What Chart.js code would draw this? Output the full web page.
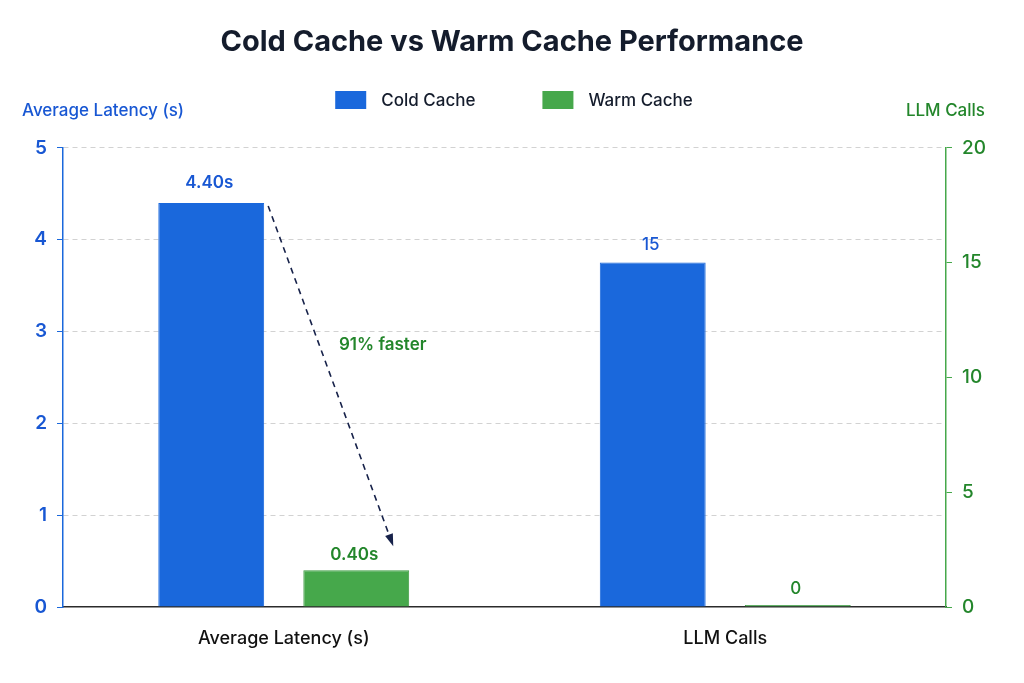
<!DOCTYPE html>
<html>
<head>
<meta charset="utf-8">
<title>Cold Cache vs Warm Cache Performance</title>
<script src="https://cdn.jsdelivr.net/npm/chart.js@4.4.1/dist/chart.umd.min.js"></script>
<style>
  html, body { margin: 0; background: #ffffff; }
  #wrap { width: 1024px; height: 683px; }
</style>
</head>
<body>
<div id="wrap"><canvas id="chart"></canvas></div>
<script>
// values
const categories = ['Average Latency (s)', 'LLM Calls'];
const seriesNames = ['Cold Cache', 'Warm Cache'];
const latencyValues = [4.40, 0.40];   // cold, warm (seconds)
const llmCallValues = [15, 0];        // cold, warm
const latencyTicks = [0, 1, 2, 3, 4, 5];
const callTicks = [0, 5, 10, 15, 20];
const speedupText = '91% faster';

const BLUE = '#1a68dc';
const BLUE_TEXT = '#1857d3';
const GREEN = '#46a84b';
const GREEN_EDGE = '#3b9a40';
const GREEN_TEXT = '#23862b';
const DARK = '#141c2c';

Chart.defaults.font.family = 'Inter, "Noto Sans", sans-serif';

// labels above each bar
const barLabels = {
  id: 'barLabels',
  afterDatasetsDraw(chart) {
    const ctx = chart.ctx;
    ctx.save();
    ctx.textAlign = 'center';
    ctx.textBaseline = 'bottom';
    chart.data.datasets.forEach((ds, i) => {
      chart.getDatasetMeta(i).data.forEach((bar, j) => {
        const v = ds.data[j];
        if (v === null) return;
        ctx.fillStyle = ds.labelColor;
        ctx.font = ds.labelFont;
        ctx.fillText(ds.format(v), bar.x - 2, bar.y - ds.labelGap);
      });
    });
    ctx.restore();
  }
};

// legend, axis titles and the speed-up arrow
const extras = {
  id: 'extras',
  afterDraw(chart) {
    const ctx = chart.ctx;
    ctx.save();

    // legend
    ctx.font = '500 17px Inter, "Noto Sans", sans-serif';
    ctx.textBaseline = 'middle';
    const colors = [BLUE, GREEN];
    const widths = seriesNames.map(n => 31 + 15 + ctx.measureText(n).width);
    const gap = 67;
    let x = chart.width / 2 - (widths[0] + widths[1] + gap) / 2 + 2;
    const ly = 100;
    seriesNames.forEach((n, i) => {
      ctx.fillStyle = colors[i];
      ctx.fillRect(x, ly - 9, 31, 18);
      ctx.fillStyle = DARK;
      ctx.textAlign = 'left';
      ctx.fillText(n, x + 46, ly + 1);
      x += widths[i] + gap;
    });

    // axis titles
    ctx.font = '500 17px Inter, "Noto Sans", sans-serif';
    ctx.fillStyle = BLUE_TEXT;
    ctx.textAlign = 'left';
    ctx.fillText(categories[0], 22, 111);
    ctx.fillStyle = GREEN_TEXT;
    ctx.textAlign = 'right';
    ctx.fillText(categories[1], 985, 111);

    // dashed arrow from cold to warm latency bar
    const cold = chart.getDatasetMeta(0).data[0];
    const warm = chart.getDatasetMeta(1).data[0];
    const x1 = cold.x + cold.width / 2 + 4, y1 = cold.y + 3;
    const x2 = warm.x + 37, y2 = warm.y - 24;
    ctx.strokeStyle = '#17224a';
    ctx.lineWidth = 1.6;
    ctx.setLineDash([6, 5]);
    ctx.beginPath();
    ctx.moveTo(x1, y1);
    ctx.lineTo(x2, y2);
    ctx.stroke();
    ctx.setLineDash([]);
    const ang = Math.atan2(y2 - y1, x2 - x1);
    ctx.fillStyle = '#17224a';
    ctx.beginPath();
    ctx.moveTo(x2, y2);
    ctx.lineTo(x2 - 13 * Math.cos(ang - 0.32), y2 - 13 * Math.sin(ang - 0.32));
    ctx.lineTo(x2 - 13 * Math.cos(ang + 0.32), y2 - 13 * Math.sin(ang + 0.32));
    ctx.closePath();
    ctx.fill();

    ctx.font = '600 17px Inter, "Noto Sans", sans-serif';
    ctx.fillStyle = GREEN_TEXT;
    ctx.textAlign = 'center';
    ctx.fillText(speedupText, (x1 + x2) / 2 + 52, (y1 + y2) / 2 - 31);

    ctx.restore();
  }
};

const fmtLatency = v => v.toFixed(2) + 's';
const fmtCalls = v => String(v);

new Chart(document.getElementById('chart'), {
  type: 'bar',
  data: {
    labels: categories,
    datasets: [
      { label: seriesNames[0], data: [latencyValues[0], null], yAxisID: 'y',
        backgroundColor: BLUE, borderColor: BLUE, borderWidth: 1,
        labelColor: BLUE_TEXT, labelFont: '600 17px Inter, sans-serif', labelGap: 12, format: fmtLatency },
      { label: seriesNames[1], data: [latencyValues[1], null], yAxisID: 'y',
        backgroundColor: GREEN, borderColor: GREEN_EDGE, borderWidth: 1,
        labelColor: GREEN_TEXT, labelFont: '600 17px Inter, sans-serif', labelGap: 7, format: fmtLatency },
      { label: seriesNames[0], data: [null, llmCallValues[0]], yAxisID: 'y1',
        backgroundColor: BLUE, borderColor: BLUE, borderWidth: 1,
        labelColor: BLUE_TEXT, labelFont: '500 17px Inter, sans-serif', labelGap: 9, format: fmtCalls },
      { label: seriesNames[1], data: [null, llmCallValues[1]], yAxisID: 'y1',
        backgroundColor: GREEN, borderColor: GREEN_EDGE, borderWidth: 1, minBarLength: 2,
        labelColor: GREEN_TEXT, labelFont: '500 17px Inter, sans-serif', labelGap: 8, format: fmtCalls }
    ]
  },
  options: {
    responsive: true,
    maintainAspectRatio: false,
    animation: false,
    skipNull: true,
    categoryPercentage: 0.657,
    barPercentage: 0.73,
    layout: { padding: 0 },
    plugins: {
      legend: { display: false },
      tooltip: { enabled: false },
      title: {
        display: true,
        text: 'Cold Cache vs Warm Cache Performance',
        color: DARK,
        font: { size: 29, weight: 'bold' },
        padding: { top: 25, bottom: 88 }
      }
    },
    scales: {
      x: {
        grid: { display: false },
        border: { color: '#2b2b2b', width: 1.5 },
        ticks: { color: '#111111', font: { size: 18, weight: '500' }, padding: 13 },
        afterFit: s => { s.height = 76; }
      },
      y: {
        position: 'left',
        min: latencyTicks[0],
        max: latencyTicks[latencyTicks.length - 1],
        afterBuildTicks: s => { s.ticks = latencyTicks.map(v => ({ value: v })); },
        grid: {
          color: c => (c.tick && c.tick.value === 0) ? 'rgba(0,0,0,0)' : '#d2d2d2',
          tickColor: BLUE, tickLength: 6, lineWidth: 1
        },
        border: { color: BLUE, width: 1.5, dash: [5, 4] },
        ticks: { color: BLUE_TEXT, font: { size: 19, weight: '600' }, padding: 10 },
        afterFit: s => { s.width = 63; }
      },
      y1: {
        position: 'right',
        min: callTicks[0],
        max: callTicks[callTicks.length - 1],
        afterBuildTicks: s => { s.ticks = callTicks.map(v => ({ value: v })); },
        grid: { drawOnChartArea: false, tickColor: GREEN, tickLength: 6 },
        border: { color: GREEN, width: 1.5 },
        ticks: { color: GREEN_TEXT, font: { size: 19, weight: '500' }, padding: 10 },
        afterFit: s => { s.width = 78; }
      }
    }
  },
  plugins: [barLabels, extras]
});
</script>
</body>
</html>
